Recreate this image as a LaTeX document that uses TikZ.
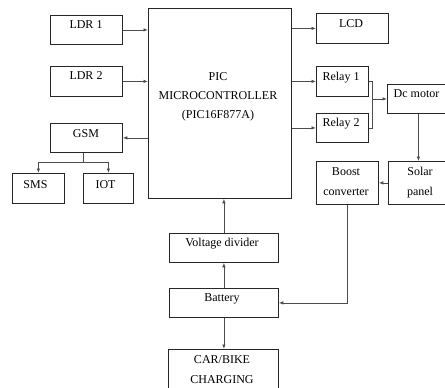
\documentclass[tikz,border=0pt]{standalone}
\usepackage{fontspec}
\setmainfont{Liberation Serif}
\usetikzlibrary{arrows.meta,calc}
\tikzset{
  box/.style={draw=black!85, line width=0.8pt, inner sep=0pt, anchor=north west},
  txt/.style={inner sep=0pt, anchor=north, text height=8.2pt, align=center, font=\fontsize{12}{20}\selectfont},
  conn/.style={draw=black!70, line width=0.8pt},
  arr/.style={conn, -{Latex[length=4.5pt,width=3.5pt]}},
}
\begin{document}
\begin{tikzpicture}[x=1pt,y=-1pt]
\useasboundingbox (0,0) rectangle (445,388);
\clip (0,0) rectangle (445,388);
% boxes
\node[box, minimum width=72, minimum height=29] (ldr1) at (50,15) {};
\node[box, minimum width=72, minimum height=30] (ldr2) at (50,66) {};
\node[box, minimum width=72, minimum height=29] (gsm) at (50,123) {};
\node[box, minimum width=52, minimum height=30] (sms) at (12,173) {};
\node[box, minimum width=50, minimum height=30] (iot) at (83,173) {};
\node[box, minimum width=143, minimum height=190] (mcu) at (148,8) {};
\node[box, minimum width=72, minimum height=30] (lcd) at (316,13) {};
\node[box, minimum width=52, minimum height=30] (relay1) at (316,66) {};
\node[box, minimum width=52, minimum height=29] (relay2) at (316,113) {};
\node[box, minimum width=62, minimum height=29] (dc) at (387,84) {};
\node[box, minimum width=62, minimum height=43] (boost) at (316,161) {};
\node[box, minimum width=63, minimum height=43] (solar) at (388,161) {};
\node[box, minimum width=109, minimum height=29] (vd) at (169,233) {};
\node[box, minimum width=109, minimum height=29] (bat) at (169,288) {};
\node[box, minimum width=110, minimum height=38.5] (car) at (168,349) {};
% texts (for multi-line texts the anchor refers to the last line)
\node[txt] (ldr1-t) at (86,20.3) {LDR 1};
\node[txt] (ldr2-t) at (86,71.3) {LDR 2};
\node[txt] (gsm-t) at (86,129.3) {GSM};
\node[txt] (sms-t) at (35.5,180.3) {SMS};
\node[txt] (iot-t) at (105.5,180.3) {IOT};
\node[txt, font=\fontsize{12}{19}\selectfont] (mcu-t) at (218,110.3) {PIC\\MICROCONTROLLER\\(PIC16F877A)};
\node[txt] (lcd-t) at (351,19.3) {LCD};
\node[txt] (relay1-t) at (341,71.8) {Relay 1};
\node[txt] (relay2-t) at (341,118.3) {Relay 2};
\node[txt] (dc-t) at (416.5,89.3) {Dc motor};
\node[txt] (boost-t) at (346,187.3) {Boost\\converter};
\node[txt] (solar-t) at (420,187.3) {Solar\\panel};
\node[txt] (vd-t) at (222,238.3) {Voltage divider};
\node[txt] (bat-t) at (222,293.3) {Battery};
\node[txt] (car-t) at (222,375.3) {CAR/BIKE\\CHARGING};
% connectors
\draw[arr] (ldr1.east) -- (ldr1.east -| mcu.west);
\draw[arr] (ldr2.east) -- (ldr2.east -| mcu.west);
\draw[arr] (gsm.east -| mcu.west) -- (gsm.east);
\coordinate (gj) at (83,162);
\draw[conn] (gsm.south -| gj) -- (gj);
\draw[arr] (gj) -| (sms.north);
\draw[arr] (gj) -| (iot.north);
\draw[arr] (lcd.west -| mcu.east) -- (lcd.west);
\draw[arr] (relay1.west -| mcu.east) -- (relay1.west);
\draw[arr] (relay2.west -| mcu.east) -- (relay2.west);
\coordinate (mj) at (372,0);
\draw[conn] (relay1.east) -| (mj |- relay2.east) -- (relay2.east);
\draw[arr] (mj |- dc.west) -- (dc.west);
\draw[arr] (dc.south) -- (dc.south |- solar.north);
\draw[arr] (solar.west) -- (boost.east);
\draw[arr] (boost.south) |- (bat.east);
\draw[arr] (vd.north) -- (vd.north |- mcu.south);
\draw[arr] (bat.north) -- (vd.south);
\draw[arr] (bat.south) -- (bat.south |- car.north);
\end{tikzpicture}
\end{document}
